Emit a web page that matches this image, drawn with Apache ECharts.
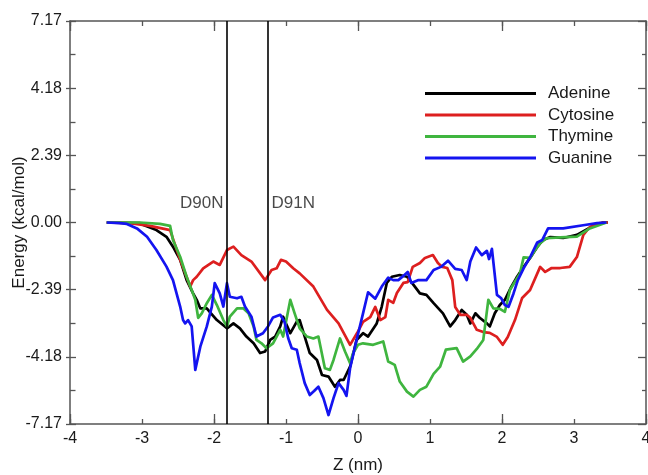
<!DOCTYPE html>
<html><head><meta charset="utf-8">
<script src="https://cdn.jsdelivr.net/npm/echarts/dist/echarts.min.js"></script>
<style>html,body{margin:0;padding:0;background:#fff;}#c{width:648px;height:475px;}</style>
</head><body><div id="c"></div>
<script>
// Y axis is drawn on a non-linear scale: these tick values are equally spaced on screen
const yTickValues = [-7.17, -4.18, -2.39, 0, 2.39, 4.18, 7.17];
const yTickLabels = ['-7.17', '-4.18', '-2.39', '0.00', '2.39', '4.18', '7.17'];
const seriesNames = ['Adenine', 'Cytosine', 'Thymine', 'Guanine'];
const seriesColors = ['#000000', '#dd1f1f', '#3fb53f', '#1414f0'];

// [Z (nm), Energy (kcal/mol)]
const adenine = [[-3.49,0],[-3.03,-0.02],[-2.98,-0.09],[-2.80,-0.27],[-2.66,-0.51],[-2.57,-0.86],[-2.47,-1.33],[-2.38,-2.05],[-2.29,-2.49],[-2.24,-2.66],[-2.19,-2.89],[-2.10,-2.89],[-2.06,-2.98],[-1.96,-3.20],[-1.82,-3.42],[-1.73,-3.29],[-1.64,-3.42],[-1.55,-3.64],[-1.45,-3.82],[-1.36,-4.08],[-1.29,-4.04],[-1.22,-3.73],[-1.15,-3.64],[-1.08,-3.37],[-1.04,-3.11],[-1.00,-3.29],[-0.94,-3.55],[-0.85,-3.24],[-0.81,-3.20],[-0.74,-3.64],[-0.67,-4.08],[-0.57,-4.32],[-0.50,-4.99],[-0.41,-5.06],[-0.32,-5.51],[-0.25,-5.21],[-0.20,-5.21],[-0.11,-4.62],[-0.02,-3.73],[0.07,-3.55],[0.14,-3.64],[0.26,-3.29],[0.33,-2.84],[0.40,-2.15],[0.47,-1.93],[0.58,-1.87],[0.68,-1.93],[0.75,-2.15],[0.86,-2.49],[0.95,-2.53],[1.05,-2.75],[1.18,-3.02],[1.28,-3.37],[1.35,-3.20],[1.44,-2.93],[1.51,-3.06],[1.56,-3.29],[1.63,-3.02],[1.69,-3.14],[1.79,-3.29],[1.83,-3.37],[1.90,-3.02],[1.97,-2.80],[2.04,-2.66],[2.13,-2.28],[2.20,-1.97],[2.29,-1.62],[2.39,-1.26],[2.49,-0.87],[2.57,-0.62],[2.67,-0.52],[2.85,-0.55],[3.04,-0.44],[3.22,-0.18],[3.40,0],[3.47,0]];
const cytosine = [[-3.49,0],[-3.17,-0.02],[-2.89,-0.12],[-2.61,-0.27],[-2.47,-1.33],[-2.33,-2.28],[-2.29,-2.05],[-2.24,-1.93],[-2.15,-1.63],[-2.01,-1.39],[-1.92,-1.51],[-1.82,-0.98],[-1.73,-0.86],[-1.62,-1.16],[-1.48,-1.39],[-1.29,-2.05],[-1.20,-1.69],[-1.13,-1.63],[-1.07,-1.33],[-1.00,-1.39],[-0.90,-1.63],[-0.81,-1.81],[-0.62,-2.28],[-0.43,-2.93],[-0.27,-3.29],[-0.11,-3.86],[-0.01,-3.54],[0.07,-3.25],[0.17,-3.12],[0.24,-2.85],[0.31,-3.20],[0.38,-3.12],[0.42,-2.66],[0.49,-2.74],[0.54,-2.48],[0.63,-2.15],[0.69,-2.12],[0.76,-1.58],[0.86,-1.44],[0.93,-1.26],[1.04,-1.16],[1.11,-1.44],[1.17,-1.58],[1.24,-1.62],[1.31,-2.05],[1.35,-2.85],[1.42,-3.06],[1.51,-3.06],[1.56,-3.14],[1.65,-3.46],[1.74,-3.52],[1.83,-3.54],[1.93,-3.65],[2.01,-3.86],[2.08,-3.65],[2.18,-3.20],[2.28,-2.61],[2.39,-2.40],[2.53,-1.58],[2.60,-1.76],[2.69,-1.62],[2.81,-1.62],[2.94,-1.58],[3.04,-1.23],[3.13,-0.44],[3.22,-0.16],[3.36,-0.02],[3.47,0]];
const thymine = [[-3.49,0],[-3.03,0],[-2.75,-0.05],[-2.61,-0.12],[-2.57,-0.62],[-2.47,-1.22],[-2.38,-1.93],[-2.31,-2.40],[-2.26,-2.66],[-2.22,-3.14],[-2.17,-3.02],[-2.10,-2.75],[-2.03,-2.53],[-1.96,-2.80],[-1.87,-3.20],[-1.82,-3.37],[-1.78,-3.11],[-1.68,-2.89],[-1.59,-2.89],[-1.52,-3.02],[-1.45,-3.37],[-1.41,-3.73],[-1.34,-3.82],[-1.27,-3.95],[-1.18,-3.82],[-1.08,-3.46],[-1.04,-3.64],[-0.94,-2.66],[-0.88,-3.02],[-0.81,-3.42],[-0.71,-3.64],[-0.62,-3.69],[-0.55,-3.64],[-0.46,-4.69],[-0.39,-4.76],[-0.34,-4.32],[-0.25,-3.69],[-0.18,-4.04],[-0.11,-4.46],[-0.07,-4.09],[0.00,-3.86],[0.07,-3.82],[0.21,-3.86],[0.35,-3.77],[0.42,-4.39],[0.51,-4.54],[0.58,-5.28],[0.68,-5.73],[0.77,-5.95],[0.86,-5.65],[0.95,-5.51],[1.05,-4.94],[1.14,-4.62],[1.22,-3.99],[1.37,-3.95],[1.46,-4.39],[1.56,-4.17],[1.65,-3.97],[1.74,-3.73],[1.81,-2.66],[1.88,-2.89],[1.97,-2.90],[2.04,-2.98],[2.11,-2.40],[2.18,-2.11],[2.25,-1.81],[2.30,-1.24],[2.39,-1.26],[2.46,-0.98],[2.53,-0.74],[2.62,-0.56],[2.81,-0.53],[3.04,-0.50],[3.22,-0.21],[3.45,0]];
const guanine = [[-3.49,0],[-3.31,-0.02],[-3.21,-0.05],[-3.07,-0.21],[-2.93,-0.51],[-2.80,-0.98],[-2.66,-1.57],[-2.57,-2.05],[-2.52,-2.49],[-2.47,-2.84],[-2.43,-3.20],[-2.40,-3.29],[-2.36,-3.20],[-2.31,-3.37],[-2.26,-4.76],[-2.19,-3.91],[-2.10,-3.37],[-2.03,-2.84],[-1.99,-2.16],[-1.92,-2.49],[-1.87,-2.84],[-1.82,-2.16],[-1.78,-2.58],[-1.68,-2.62],[-1.62,-2.58],[-1.57,-2.84],[-1.48,-3.11],[-1.41,-3.64],[-1.32,-3.55],[-1.25,-3.37],[-1.18,-3.13],[-1.08,-3.06],[-1.02,-3.25],[-0.97,-3.68],[-0.92,-3.95],[-0.85,-3.99],[-0.81,-4.46],[-0.74,-5.35],[-0.67,-5.88],[-0.61,-5.70],[-0.55,-5.51],[-0.48,-6.02],[-0.41,-6.77],[-0.34,-6.02],[-0.27,-5.35],[-0.20,-5.65],[-0.16,-5.92],[-0.11,-4.69],[-0.02,-3.73],[0.07,-3.02],[0.14,-2.46],[0.24,-2.63],[0.33,-2.28],[0.42,-1.96],[0.49,-2.05],[0.56,-2.05],[0.63,-1.90],[0.69,-1.76],[0.74,-2.15],[0.84,-2.05],[0.95,-2.05],[1.05,-1.69],[1.16,-1.57],[1.25,-1.36],[1.35,-1.65],[1.44,-1.69],[1.51,-2.05],[1.56,-1.39],[1.64,-0.89],[1.72,-1.16],[1.79,-1.01],[1.82,-1.30],[1.86,-0.94],[1.93,-2.53],[1.99,-2.62],[2.04,-2.80],[2.09,-2.85],[2.16,-2.49],[2.22,-2.05],[2.30,-1.63],[2.40,-1.19],[2.49,-0.71],[2.56,-0.62],[2.64,-0.21],[2.85,-0.21],[3.15,-0.09],[3.32,-0.02],[3.45,0]];

const mutationZ = [-1.82, -1.25];
const mutationLabels = ['D90N', 'D91N'];
const mutationLabelEnergy = 0.7;

// map kcal/mol to the piecewise-linear screen scale (tick index units, 0 at centre)
function toAxis(v) {
  const t = yTickValues;
  if (v <= t[0]) return -3;
  for (let i = 0; i < t.length - 1; i++) {
    if (v <= t[i + 1]) return i - 3 + (v - t[i]) / (t[i + 1] - t[i]);
  }
  return 3;
}
const conv = arr => arr.map(p => [p[0], toAxis(p[1])]);

const FONT = '"Liberation Sans", Arial, sans-serif';
const AX = '#555';
const TXT = '#1a1a1a';
const FS = 17;
const FS_TICK = 16;

const chart = echarts.init(document.getElementById('c'), null, {renderer: 'canvas'});
const allData = [adenine, cytosine, thymine, guanine];

const baseX = (extra) => Object.assign({
  type: 'value', min: -4, max: 4, interval: 1, gridIndex: 0,
  splitLine: {show: false},
  axisLine: {show: false, onZero: false, lineStyle: {color: AX, width: 1.5}},
  axisTick: {show: true, inside: true, length: 5, lineStyle: {color: AX, width: 1.3}},
  axisLabel: {show: false}
}, extra);
const baseY = (extra) => Object.assign({
  type: 'value', min: -3, max: 3, interval: 1, gridIndex: 0,
  splitLine: {show: false},
  axisLine: {show: false, onZero: false, lineStyle: {color: AX, width: 1.5}},
  axisTick: {show: true, inside: true, length: 6, lineStyle: {color: AX, width: 1.3}},
  axisLabel: {show: false}
}, extra);

const series = seriesNames.map((n, i) => ({
  name: n, type: 'line', data: conv(allData[i]),
  xAxisIndex: 0, yAxisIndex: 0,
  symbol: 'none', showSymbol: false, smooth: false,
  lineStyle: {color: seriesColors[i], width: 2.7, join: 'round'},
  itemStyle: {color: seriesColors[i]},
  z: 3, animation: false
}));
series.push({
  name: 'mutations', type: 'scatter', xAxisIndex: 0, yAxisIndex: 0,
  data: mutationZ.map((z, i) => ({
    value: [z, toAxis(mutationLabelEnergy)],
    label: {show: true, formatter: mutationLabels[i], position: i === 0 ? 'left' : 'right', distance: 3,
      color: TXT, fontSize: FS, fontFamily: FONT}
  })),
  symbolSize: 1, itemStyle: {color: 'rgba(0,0,0,0)'},
  markLine: {
    silent: true, symbol: ['none', 'none'], animation: false,
    label: {show: false},
    lineStyle: {color: '#000', width: 1.6, type: 'solid'},
    data: mutationZ.map(z => ({xAxis: z}))
  },
  z: 2, animation: false
});

chart.setOption({
  animation: false,
  backgroundColor: '#fff',
  grid: {left: 70, right: 2, top: 21, bottom: 51, outerBoundsMode: 'none', containLabel: false},
  legend: {
    data: seriesNames, orient: 'vertical', left: 420, top: 80,
    icon: 'rect', itemWidth: 111, itemHeight: 3, itemGap: 4.5,
    textStyle: {fontSize: FS, fontFamily: FONT, color: TXT, padding: [0, 0, 0, 7]}
  },
  xAxis: [
    baseX({position: 'bottom',
      axisLine: {show: true, onZero: false, lineStyle: {color: AX, width: 1.5}},
      axisLabel: {show: true, fontSize: FS_TICK, fontFamily: FONT, color: TXT, margin: 7},
      name: 'Z (nm)', nameLocation: 'middle', nameGap: 33,
      nameTextStyle: {fontSize: FS, fontFamily: FONT, color: TXT}}),
    baseX({position: 'bottom', interval: 2, axisTick: {show: true, inside: true, length: 10, lineStyle: {color: AX, width: 1.3}}}),
    baseX({position: 'top', axisLine: {show: true, onZero: false, lineStyle: {color: AX, width: 1.5}}}),
    baseX({position: 'top', interval: 2, axisTick: {show: true, inside: true, length: 10, lineStyle: {color: AX, width: 1.3}}})
  ],
  yAxis: [
    baseY({position: 'left',
      axisLine: {show: true, onZero: false, lineStyle: {color: AX, width: 1.5}},
      minorTick: {show: true, splitNumber: 2, length: 5.5, lineStyle: {color: AX, width: 1.3}},
      axisLabel: {show: true, fontSize: FS_TICK, fontFamily: FONT, color: TXT, margin: 8,
        formatter: v => yTickLabels[Math.round(v) + 3]},
      name: 'Energy (kcal/mol)', nameLocation: 'middle', nameGap: 42, nameMoveOverlap: false,
      nameTextStyle: {fontSize: FS, fontFamily: FONT, color: TXT}}),
    baseY({position: 'left', axisTick: {show: true, inside: false, length: 4, lineStyle: {color: AX, width: 1.3}}}),
    baseY({position: 'right',
      axisLine: {show: true, onZero: false, lineStyle: {color: AX, width: 1.5}},
      axisTick: {show: true, inside: true, length: 8, lineStyle: {color: AX, width: 1.3}},
      minorTick: {show: true, splitNumber: 2, length: 4, lineStyle: {color: AX, width: 1.3}}})
  ],
  series: series
});
</script></body></html>
